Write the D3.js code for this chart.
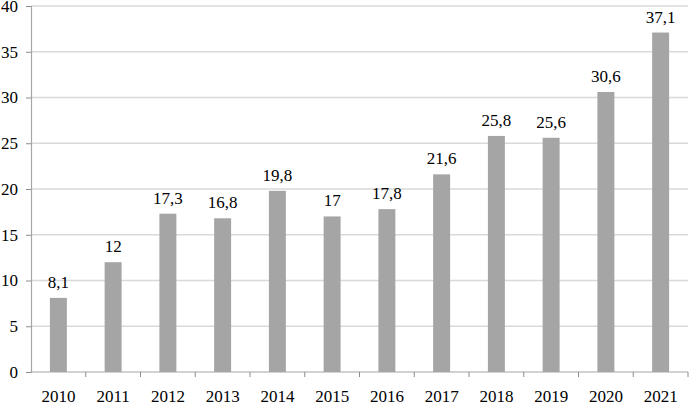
<!DOCTYPE html>
<html>
<head>
<meta charset="utf-8">
<script src="https://cdn.jsdelivr.net/npm/d3@7"></script>
<style>
  body { margin: 0; background: #fff; }
</style>
</head>
<body>
<svg id="graf" width="689" height="405" font-family="Liberation Serif"></svg>
<script>
const anios = ["2010", "2011", "2012", "2013", "2014", "2015", "2016", "2017", "2018", "2019", "2020", "2021"];
const valores = [8.1, 12, 17.3, 16.8, 19.8, 17, 17.8, 21.6, 25.8, 25.6, 30.6, 37.1];
const ticksY = [0, 5, 10, 15, 20, 25, 30, 35, 40];

const fuente = "Liberation Serif";
const svg = d3.select("#graf");
const izq = 31, der = 688, abajo = 372, arriba = 6;

const x = d3.scaleBand().domain(anios).range([izq, der]).paddingInner(0.69).paddingOuter(0.345);
const y = d3.scaleLinear().domain([0, 40]).range([abajo, arriba]);
const fmt = v => String(v).replace(".", ",");

// lineas de grilla
svg.append("g")
  .selectAll("line")
  .data(ticksY.filter(d => d > 0))
  .enter()
  .append("line")
  .attr("x1", izq).attr("x2", der)
  .attr("y1", d => y(d)).attr("y2", d => y(d))
  .attr("stroke", "#d9d9d9")
  .attr("stroke-width", 1.5);

// eje y
const ejeY = svg.append("g").attr("transform", `translate(${izq},0)`)
  .call(d3.axisLeft(y).tickValues(ticksY).tickSize(5).tickPadding(8).tickFormat(d => d));
ejeY.attr("font-family", fuente).attr("font-size", 17);
ejeY.select(".domain").attr("stroke", "#a6a6a6").attr("stroke-width", 1.2);
ejeY.selectAll(".tick line").attr("stroke", "#8c8c8c");
ejeY.selectAll("text").attr("font-family", fuente).attr("font-size", 17).attr("fill", "#000");

// barras
svg.selectAll("rect")
  .data(valores)
  .enter()
  .append("rect")
  .attr("x", (d, i) => x(anios[i]))
  .attr("y", d => y(d))
  .attr("width", x.bandwidth())
  .attr("height", d => abajo - y(d))
  .attr("fill", "#a5a5a5");

// eje x
const paso = x.step();
const bordes = d3.range(anios.length + 1).map(i => izq + i * paso);
svg.append("line")
  .attr("x1", izq).attr("x2", der)
  .attr("y1", abajo).attr("y2", abajo)
  .attr("stroke", "#a6a6a6").attr("stroke-width", 1.2);
svg.append("g")
  .selectAll("line")
  .data(bordes.slice(1))
  .enter()
  .append("line")
  .attr("x1", d => d).attr("x2", d => d)
  .attr("y1", abajo).attr("y2", abajo + 5)
  .attr("stroke", "#8c8c8c");

svg.append("g")
  .selectAll("text")
  .data(anios)
  .enter()
  .append("text")
  .attr("x", d => x(d) + x.bandwidth() / 2)
  .attr("y", 402)
  .attr("text-anchor", "middle")
  .attr("font-family", fuente)
  .attr("font-size", 17)
  .text(d => d);

// etiquetas de valores
svg.append("g")
  .selectAll("text")
  .data(valores)
  .enter()
  .append("text")
  .attr("x", (d, i) => x(anios[i]) + x.bandwidth() / 2)
  .attr("y", d => y(d) - 10)
  .attr("text-anchor", "middle")
  .attr("font-family", fuente)
  .attr("font-size", 17)
  .text(d => fmt(d));
</script>
</body>
</html>
